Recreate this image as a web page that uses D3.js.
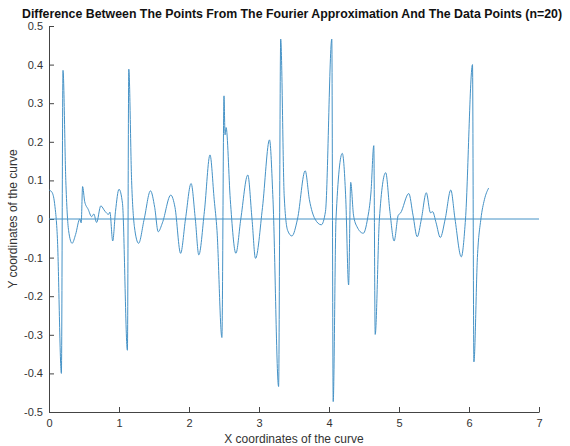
<!DOCTYPE html>
<html>
<head>
<meta charset="utf-8">
<script src="https://cdn.jsdelivr.net/npm/d3@7"></script>
<style>
  body { margin: 0; background: #fff; }
  text { font-family: "Liberation Sans", Arial, sans-serif; }
</style>
</head>
<body>
<script>
// difference curve
var xs = [0.00, 0.04, 0.08, 0.12, 0.177, 0.20, 0.24, 0.28, 0.33, 0.38, 0.44, 0.46, 0.48, 0.51, 0.56,
  0.61, 0.64, 0.68, 0.74, 0.80, 0.85, 0.87, 0.91, 0.95, 1.00, 1.05, 1.12, 1.14, 1.18, 1.22, 1.28,
  1.36, 1.45, 1.51, 1.56, 1.62, 1.74, 1.80, 1.88, 1.95, 2.03, 2.09, 2.14, 2.22, 2.30, 2.36, 2.40,
  2.47, 2.50, 2.515, 2.53, 2.59, 2.67, 2.74, 2.84, 2.90, 2.95, 3.05, 3.15, 3.20, 3.28, 3.31, 3.36,
  3.41, 3.47, 3.55, 3.66, 3.72, 3.80, 3.89, 3.95, 4.04, 4.06, 4.10, 4.19, 4.24, 4.28, 4.31, 4.35,
  4.40, 4.49, 4.55, 4.60, 4.64, 4.66, 4.72, 4.81, 4.87, 4.93, 4.99, 5.02, 5.14, 5.20, 5.26, 5.32,
  5.39, 5.45, 5.48, 5.53, 5.59, 5.66, 5.74, 5.80, 5.89, 5.95, 6.05, 6.07, 6.12, 6.17, 6.22, 6.28];
var ys = [0.075, 0.07, 0.04, -0.05, -0.40, 0.385, 0.10, -0.03, -0.063, -0.04, 0.0, -0.01, 0.084, 0.045, 0.025,
  0.006, 0.013, -0.009, 0.034, 0.02, 0.012, 0.018, -0.057, 0.02, 0.077, 0.04, -0.34, 0.388, 0.10, -0.02, -0.063,
  0.0, 0.073, 0.03, -0.033, -0.01, 0.062, 0.03, -0.089, 0.0, 0.092, 0.0, -0.093, 0.02, 0.166, 0.05, -0.03,
  -0.307, 0.319, 0.218, 0.237, 0.05, -0.089, 0.0, 0.114, 0.0, -0.102, 0.03, 0.205, 0.05, -0.434, 0.466, 0.06,
  -0.03, -0.044, 0.0, 0.125, 0.05, 0.0, -0.015, 0.02, 0.466, -0.473, 0.0, 0.17, 0.05, -0.171, 0.095, 0.01,
  -0.02, -0.037, 0.0, 0.07, 0.19, -0.299, 0.0, 0.12, 0.02, -0.057, 0.01, 0.015, 0.066, 0.01, -0.046, 0.0,
  0.068, 0.016, 0.019, -0.01, -0.048, 0.0, 0.075, 0.0, -0.098, 0.0, 0.40, -0.37, -0.10, 0.0, 0.05, 0.08];
var zeroX = [0, 7];
var zeroY = [0, 0];
var xTicks = [0, 1, 2, 3, 4, 5, 6, 7];
var yTicks = [-0.5, -0.4, -0.3, -0.2, -0.1, 0, 0.1, 0.2, 0.3, 0.4, 0.5];

var W = 570, H = 446;
var mLeft = 49, mRight = 539, mTop = 26, mBottom = 412;
var lineColor = "#4592c6";
var axisColor = "#444";

var svg = d3.select("body").append("svg").attr("width", W).attr("height", H);

var x = d3.scaleLinear().domain([0, 7]).range([mLeft, mRight]);
var y = d3.scaleLinear().domain([-0.5, 0.5]).range([mBottom, mTop]);

var fmt = function(d) { return String(+d.toFixed(1)); };

var gx = svg.append("g").attr("transform", "translate(0," + mBottom + ")")
  .call(d3.axisBottom(x).tickValues(xTicks).tickFormat(fmt).tickSizeInner(-5).tickSizeOuter(0).tickPadding(7));
var gy = svg.append("g").attr("transform", "translate(" + mLeft + ",0)")
  .call(d3.axisLeft(y).tickValues(yTicks).tickFormat(fmt).tickSizeInner(-5).tickSizeOuter(0).tickPadding(6));

[gx, gy].forEach(function(g) {
  g.attr("font-size", 11).attr("font-family", "Liberation Sans, Arial, sans-serif");
  g.select(".domain").attr("stroke", axisColor);
  g.selectAll(".tick line").attr("stroke", axisColor);
  g.selectAll(".tick text").attr("fill", "#333");
});

// zero line
var zeroPts = zeroX.map(function(d, i) { return [d, zeroY[i]]; });
svg.append("path")
  .attr("d", d3.line().x(function(d) { return x(d[0]); }).y(function(d) { return y(d[1]); })(zeroPts))
  .attr("fill", "none").attr("stroke", lineColor).attr("stroke-width", 1);

// difference curve
var pts = xs.map(function(d, i) { return [d, ys[i]]; });
svg.append("path")
  .attr("d", d3.line().curve(d3.curveMonotoneX)
    .x(function(d) { return x(d[0]); }).y(function(d) { return y(d[1]); })(pts))
  .attr("fill", "none").attr("stroke", lineColor).attr("stroke-width", 1);

// title and labels
svg.append("text")
  .attr("x", 292).attr("y", 18)
  .attr("text-anchor", "middle")
  .attr("textLength", 540).attr("lengthAdjust", "spacingAndGlyphs")
  .style("font-size", "12px").style("font-weight", "bold").attr("fill", "#111")
  .text("Difference Between The Points From The Fourier Approximation And The Data Points (n=20)");

svg.append("text")
  .attr("x", (mLeft + mRight) / 2).attr("y", 443)
  .attr("text-anchor", "middle")
  .style("font-size", "12px").attr("fill", "#333")
  .text("X coordinates of the curve");

svg.append("text")
  .attr("transform", "translate(17," + ((mTop + mBottom) / 2) + ") rotate(-90)")
  .attr("text-anchor", "middle")
  .style("font-size", "12px").attr("fill", "#333")
  .text("Y coordinates of the curve");
</script>
</body>
</html>
